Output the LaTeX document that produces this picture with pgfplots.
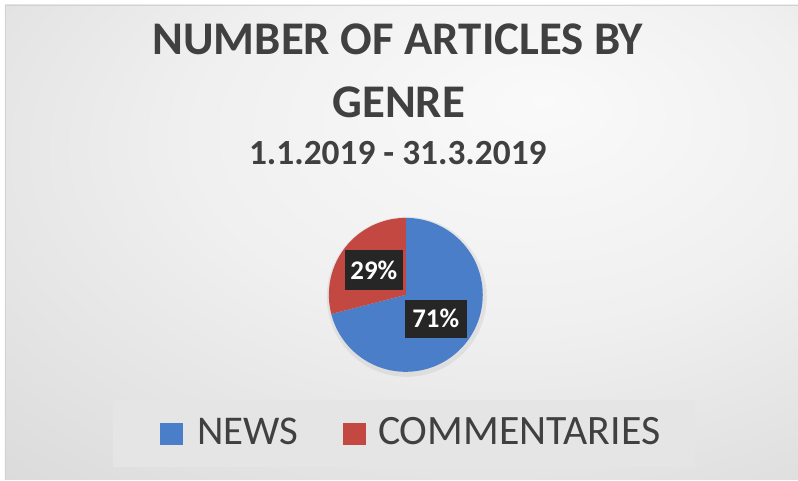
\documentclass[border=0pt]{standalone}
\usepackage{pgfplots}
\pgfplotsset{compat=1.18}
\usepackage{pgfplotstable}
\usepackage{fontspec}
\setmainfont{Carlito}
\definecolor{newsblue}{RGB}{74,126,200}
\definecolor{commred}{RGB}{196,72,66}
\definecolor{txtgray}{RGB}{64,64,64}
\definecolor{lblbg}{RGB}{38,38,38}
\definecolor{legbg}{RGB}{229,229,229}
\pgfdeclareradialshading{bgshade}{\pgfpoint{9bp}{15bp}}{color(0bp)=(white!98!black); color(20bp)=(white!94!black); color(40bp)=(white!87!black); color(60bp)=(white!80!black); color(80bp)=(white!77!black)}
\pgfplotstableread{
genre value
NEWS 71
COMMENTARIES 29
}\pietable
\begin{document}
\begin{tikzpicture}
\pgfplotstablegetelem{0}{value}\of\pietable \let\vNews\pgfplotsretval
\pgfplotstablegetelem{1}{value}\of\pietable \let\vComm\pgfplotsretval
\pgfmathsetmacro{\total}{\vNews+\vComm}
\pgfmathsetmacro{\fNews}{\vNews/\total}
\pgfmathsetmacro{\fComm}{\vComm/\total}
\pgfmathsetmacro{\aNews}{90-360*\fNews}
\pgfmathtruncatemacro{\pNews}{round(100*\fNews)}
\pgfmathtruncatemacro{\pComm}{round(100*\fComm)}
\begin{axis}[x=1bp, y=1bp, xmin=0, xmax=798, ymin=0, ymax=480, hide axis, clip=false]
% page and chart background
\fill[white] (axis cs:0,0) rectangle (axis cs:798,480);
\shade[shading=bgshade] (axis cs:5,0) rectangle (axis cs:798,475);
\draw[gray!35, line width=0.8bp] (axis cs:5,0) -- (axis cs:5,475) -- (axis cs:798,475);
% titles
\node[anchor=base, font=\fontsize{47}{56}\selectfont\bfseries, text=txtgray] at (axis cs:398,425) {NUMBER OF ARTICLES BY};
\node[anchor=base, font=\fontsize{47}{56}\selectfont\bfseries, text=txtgray] at (axis cs:399,362) {GENRE};
\node[anchor=base, font=\fontsize{35.5}{42}\selectfont\bfseries, text=txtgray] at (axis cs:398,315) {1.1.2019 - 31.3.2019};
% pie
\fill[black, opacity=0.06] (axis cs:407,183) circle[radius=80bp];
\fill[newsblue] (axis cs:406,185) -- ++(90:77bp) arc[start angle=90, end angle=\aNews, radius=77bp] -- cycle;
\fill[commred] (axis cs:406,185) -- ++(\aNews:77bp) arc[start angle=\aNews, end angle=-270, radius=77bp] -- cycle;
% data labels
\node[fill=lblbg, text=white, minimum width=58bp, minimum height=40bp, inner sep=0pt, font=\fontsize{27}{30}\selectfont\bfseries] at (axis cs:374,210) {\pComm\%};
\node[fill=lblbg, text=white, minimum width=62bp, minimum height=38bp, inner sep=0pt, font=\fontsize{27}{30}\selectfont\bfseries] at (axis cs:436,161) {\pNews\%};
% legend
\fill[legbg] (axis cs:113,13) rectangle (axis cs:695,80);
\fill[newsblue] (axis cs:160,35) rectangle (axis cs:183,57);
\fill[commred] (axis cs:343,35) rectangle (axis cs:366,57);
\node[anchor=base west, inner sep=0pt, font=\fontsize{41}{48}\selectfont, text=txtgray] at (axis cs:197,35) {NEWS};
\node[anchor=base west, inner sep=0pt, font=\fontsize{42}{48}\selectfont, text=txtgray] at (axis cs:378,35) {COMMENTARIES};
\end{axis}
\end{tikzpicture}
\end{document}
